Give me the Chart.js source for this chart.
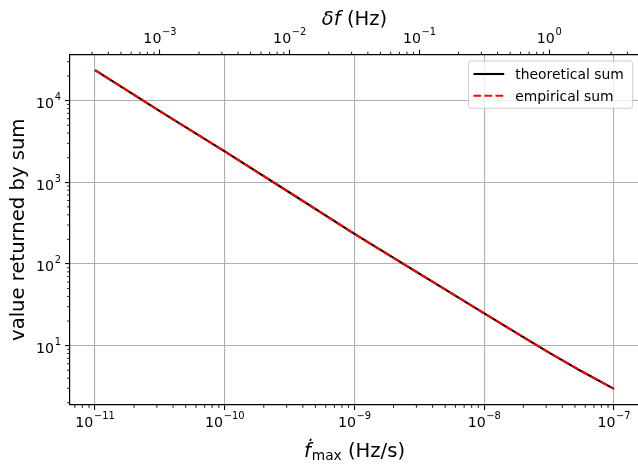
<!DOCTYPE html>
<html>
<head>
<meta charset="utf-8">
<title>Value returned by sum</title>
<script src="https://cdn.jsdelivr.net/npm/chart.js@4.4.1/dist/chart.umd.min.js"></script>
<style>
  html, body { margin: 0; padding: 0; background: #fff; }
  #frame { width: 638px; height: 464px; overflow: hidden; }
  #sumChart { display: block; }
</style>
</head>
<body>
<div id="frame"><canvas id="sumChart" width="642" height="464"></canvas></div>
<script>
// maximum frequency derivative on the search grid (Hz/s)
const fdotMax = [1e-11, 3.16e-11, 1e-10, 3.16e-10, 1e-9, 3.16e-9, 1e-8, 1.78e-8, 3.16e-8, 5.62e-8, 1e-7];
// value returned by the sum at each fdotMax
const theoreticalSum = [23700, 7450, 2390, 750, 233, 76, 24.9, 14.2, 8.2, 4.85, 2.95];
const empiricalSum = [23700, 7450, 2390, 750, 233, 76, 24.9, 14.2, 8.2, 4.85, 2.95];
const seriesLabels = ['theoretical sum', 'empirical sum'];

// decades that carry a 10^n label
const xTickExps = [-11, -10, -9, -8, -7];
const dfTickExps = [-3, -2, -1, 0];
const yTickExps = [1, 2, 3, 4];

// delta f = fdot * T, with T one year of data
const obsTime = 3.156e7;
const xMin = 6.42e-12, xMax = 1.558e-7;
const yMin = 1.875, yMax = 36730;

const FONT = '"DejaVu Sans", sans-serif';
const TICK_PX = 14.2, SUP_PX = 9.9, LABEL_PX = 19.6, LEGEND_PX = 13.9;

// all 1..9 x 10^n ticks inside [min, max]; the 1 x 10^n ones are major
function logTicks(min, max) {
  const out = [];
  for (let e = Math.floor(Math.log10(min)); e <= Math.ceil(Math.log10(max)); e++) {
    for (let m = 1; m <= 9; m++) {
      const v = m * Math.pow(10, e);
      if (v >= min && v <= max) out.push({ value: v, major: m === 1 });
    }
  }
  return out;
}

const isMajor = c => !!(c.tick && c.tick.major);

function logAxis(extra) {
  return Object.assign({
    type: 'logarithmic',
    display: true,
    afterBuildTicks: s => { s.ticks = logTicks(s.min, s.max); },
    ticks: { display: false, autoSkip: false },
    grid: {
      drawOnChartArea: true,
      color: c => isMajor(c) ? '#b0b0b0' : 'rgba(0,0,0,0)',
      lineWidth: 1.1,
      drawTicks: true,
      tickLength: 4.9,
      tickWidth: 1.1,
      tickColor: c => isMajor(c) ? '#000' : 'rgba(0,0,0,0)'
    },
    border: { display: true, color: '#000', width: 1.2 }
  }, extra);
}

function fixSize(prop, size) {
  return s => {
    s[prop] = size;
    s.paddingLeft = s.paddingRight = s.paddingTop = s.paddingBottom = 0;
  };
}

// "10" with a raised exponent, like the usual log-axis labels
function drawPow(ctx, px, baseline, exp, align) {
  const sup = String(exp).replace('-', '\u2212');
  ctx.font = TICK_PX + 'px ' + FONT;
  const wb = ctx.measureText('10').width;
  ctx.font = SUP_PX + 'px ' + FONT;
  const ws = ctx.measureText(sup).width;
  const w = wb + 0.6 + ws;
  const left = align === 'right' ? px - w : px - w / 2;
  ctx.textAlign = 'left';
  ctx.textBaseline = 'alphabetic';
  ctx.font = TICK_PX + 'px ' + FONT;
  ctx.fillText('10', left, baseline);
  ctx.font = SUP_PX + 'px ' + FONT;
  ctx.fillText(sup, left + wb + 0.6, baseline - 8.2);
}

function minorTicks(ctx, scale, edge) {
  ctx.beginPath();
  scale.ticks.forEach(t => {
    if (t.major) return;
    const p = scale.getPixelForValue(t.value);
    if (edge === 'bottom') { ctx.moveTo(p, scale.top); ctx.lineTo(p, scale.top + 2.8); }
    if (edge === 'top') { ctx.moveTo(p, scale.bottom); ctx.lineTo(p, scale.bottom - 2.8); }
    if (edge === 'left') { ctx.moveTo(scale.right, p); ctx.lineTo(scale.right - 2.8, p); }
  });
  ctx.stroke();
}

const axisDecor = {
  id: 'axisDecor',
  afterDraw(chart) {
    const ctx = chart.ctx;
    const { x, x2, y } = chart.scales;
    const area = chart.chartArea;
    ctx.save();
    ctx.strokeStyle = '#000';
    ctx.lineWidth = 0.9;
    minorTicks(ctx, x, 'bottom');
    minorTicks(ctx, x2, 'top');
    minorTicks(ctx, y, 'left');

    ctx.fillStyle = '#000';
    xTickExps.forEach(e => drawPow(ctx, x.getPixelForValue(Math.pow(10, e)), x.top + 21.7, e, 'center'));
    dfTickExps.forEach(e => drawPow(ctx, x2.getPixelForValue(Math.pow(10, e)), x2.bottom - 11.5, e, 'center'));
    yTickExps.forEach(e => drawPow(ctx, y.right - 9, y.getPixelForValue(Math.pow(10, e)) + 7.4, e, 'right'));

    const cx = (area.left + area.right) / 2;

    // bottom title: f-dot with "max" subscript, then units
    const fDot = '\u1E1F', sub = 'max', unitsB = ' (Hz/s)';
    const base = x.top + 51.5;
    ctx.font = 'italic ' + LABEL_PX + 'px ' + FONT;
    const w1 = ctx.measureText(fDot).width + 1;
    ctx.font = (LABEL_PX * 0.7) + 'px ' + FONT;
    const w2 = ctx.measureText(sub).width;
    ctx.font = LABEL_PX + 'px ' + FONT;
    const w3 = ctx.measureText(unitsB).width;
    let sx = cx - (w1 + w2 + w3) / 2;
    ctx.textAlign = 'left';
    ctx.font = 'italic ' + LABEL_PX + 'px ' + FONT;
    ctx.fillText(fDot, sx, base);
    sx += w1;
    ctx.font = (LABEL_PX * 0.7) + 'px ' + FONT;
    ctx.fillText(sub, sx, base + 3);
    sx += w2;
    ctx.font = LABEL_PX + 'px ' + FONT;
    ctx.fillText(unitsB, sx, base);

    // top title: delta f in Hz
    const df = '\u03B4f', unitsT = ' (Hz)';
    ctx.font = 'italic ' + LABEL_PX + 'px ' + FONT;
    const t1 = ctx.measureText(df).width;
    ctx.font = LABEL_PX + 'px ' + FONT;
    const t2 = ctx.measureText(unitsT).width;
    let tx = cx - (t1 + t2) / 2;
    ctx.font = 'italic ' + LABEL_PX + 'px ' + FONT;
    ctx.fillText(df, tx, 24.8);
    ctx.font = LABEL_PX + 'px ' + FONT;
    ctx.fillText(unitsT, tx + t1, 24.8);

    // left title
    ctx.save();
    ctx.translate(24, (area.top + area.bottom) / 2);
    ctx.rotate(-Math.PI / 2);
    ctx.textAlign = 'center';
    ctx.font = LABEL_PX + 'px ' + FONT;
    ctx.fillText('value returned by sum', 0, 0);
    ctx.restore();

    // legend box in the upper right corner
    const bx = area.right - 170.5, by = area.top + 6.5, bw = 164.2, bh = 47.3;
    ctx.beginPath();
    ctx.roundRect(bx, by, bw, bh, 2.8);
    ctx.fillStyle = 'rgba(255,255,255,0.8)';
    ctx.fill();
    ctx.strokeStyle = '#cccccc';
    ctx.lineWidth = 1;
    ctx.stroke();
    chart.data.datasets.forEach((ds, i) => {
      const ly = by + 13 + i * 21.7;
      ctx.beginPath();
      ctx.setLineDash(ds.borderDash || []);
      ctx.strokeStyle = ds.borderColor;
      ctx.lineWidth = ds.borderWidth;
      ctx.moveTo(bx + 5, ly);
      ctx.lineTo(bx + 35.7, ly);
      ctx.stroke();
      ctx.setLineDash([]);
      ctx.fillStyle = '#000';
      ctx.font = LEGEND_PX + 'px ' + FONT;
      ctx.textAlign = 'left';
      ctx.fillText(ds.label, bx + 46.7, ly + 5.3);
    });
    ctx.restore();
  }
};

const toPoints = vals => fdotMax.map((f, i) => ({ x: f, y: vals[i] }));

new Chart(document.getElementById('sumChart'), {
  type: 'line',
  data: {
    datasets: [{
      label: seriesLabels[0],
      data: toPoints(theoreticalSum),
      borderColor: '#000000',
      borderWidth: 2.1,
      pointRadius: 0,
      tension: 0,
      fill: false,
      order: 2
    }, {
      label: seriesLabels[1],
      data: toPoints(empiricalSum),
      borderColor: '#ff0000',
      borderWidth: 2.1,
      borderDash: [7.7, 3.3],
      pointRadius: 0,
      tension: 0,
      fill: false,
      order: 1
    }]
  },
  options: {
    responsive: false,
    animation: false,
    events: [],
    layout: { padding: { left: 0, right: 3, top: 0, bottom: 0 } },
    scales: {
      x: logAxis({ position: 'bottom', min: xMin, max: xMax, afterFit: fixSize('height', 59) }),
      x2: logAxis({
        position: 'top', min: xMin * obsTime, max: xMax * obsTime,
        afterFit: fixSize('height', 54.5),
        grid: {
          drawOnChartArea: false, drawTicks: true, tickLength: 4.9, tickWidth: 1.1,
          tickColor: c => isMajor(c) ? '#000' : 'rgba(0,0,0,0)'
        }
      }),
      y: logAxis({ position: 'left', min: yMin, max: yMax, afterFit: fixSize('width', 70) })
    },
    plugins: {
      legend: { display: false },
      tooltip: { enabled: false }
    }
  },
  plugins: [axisDecor]
});
</script>
</body>
</html>
